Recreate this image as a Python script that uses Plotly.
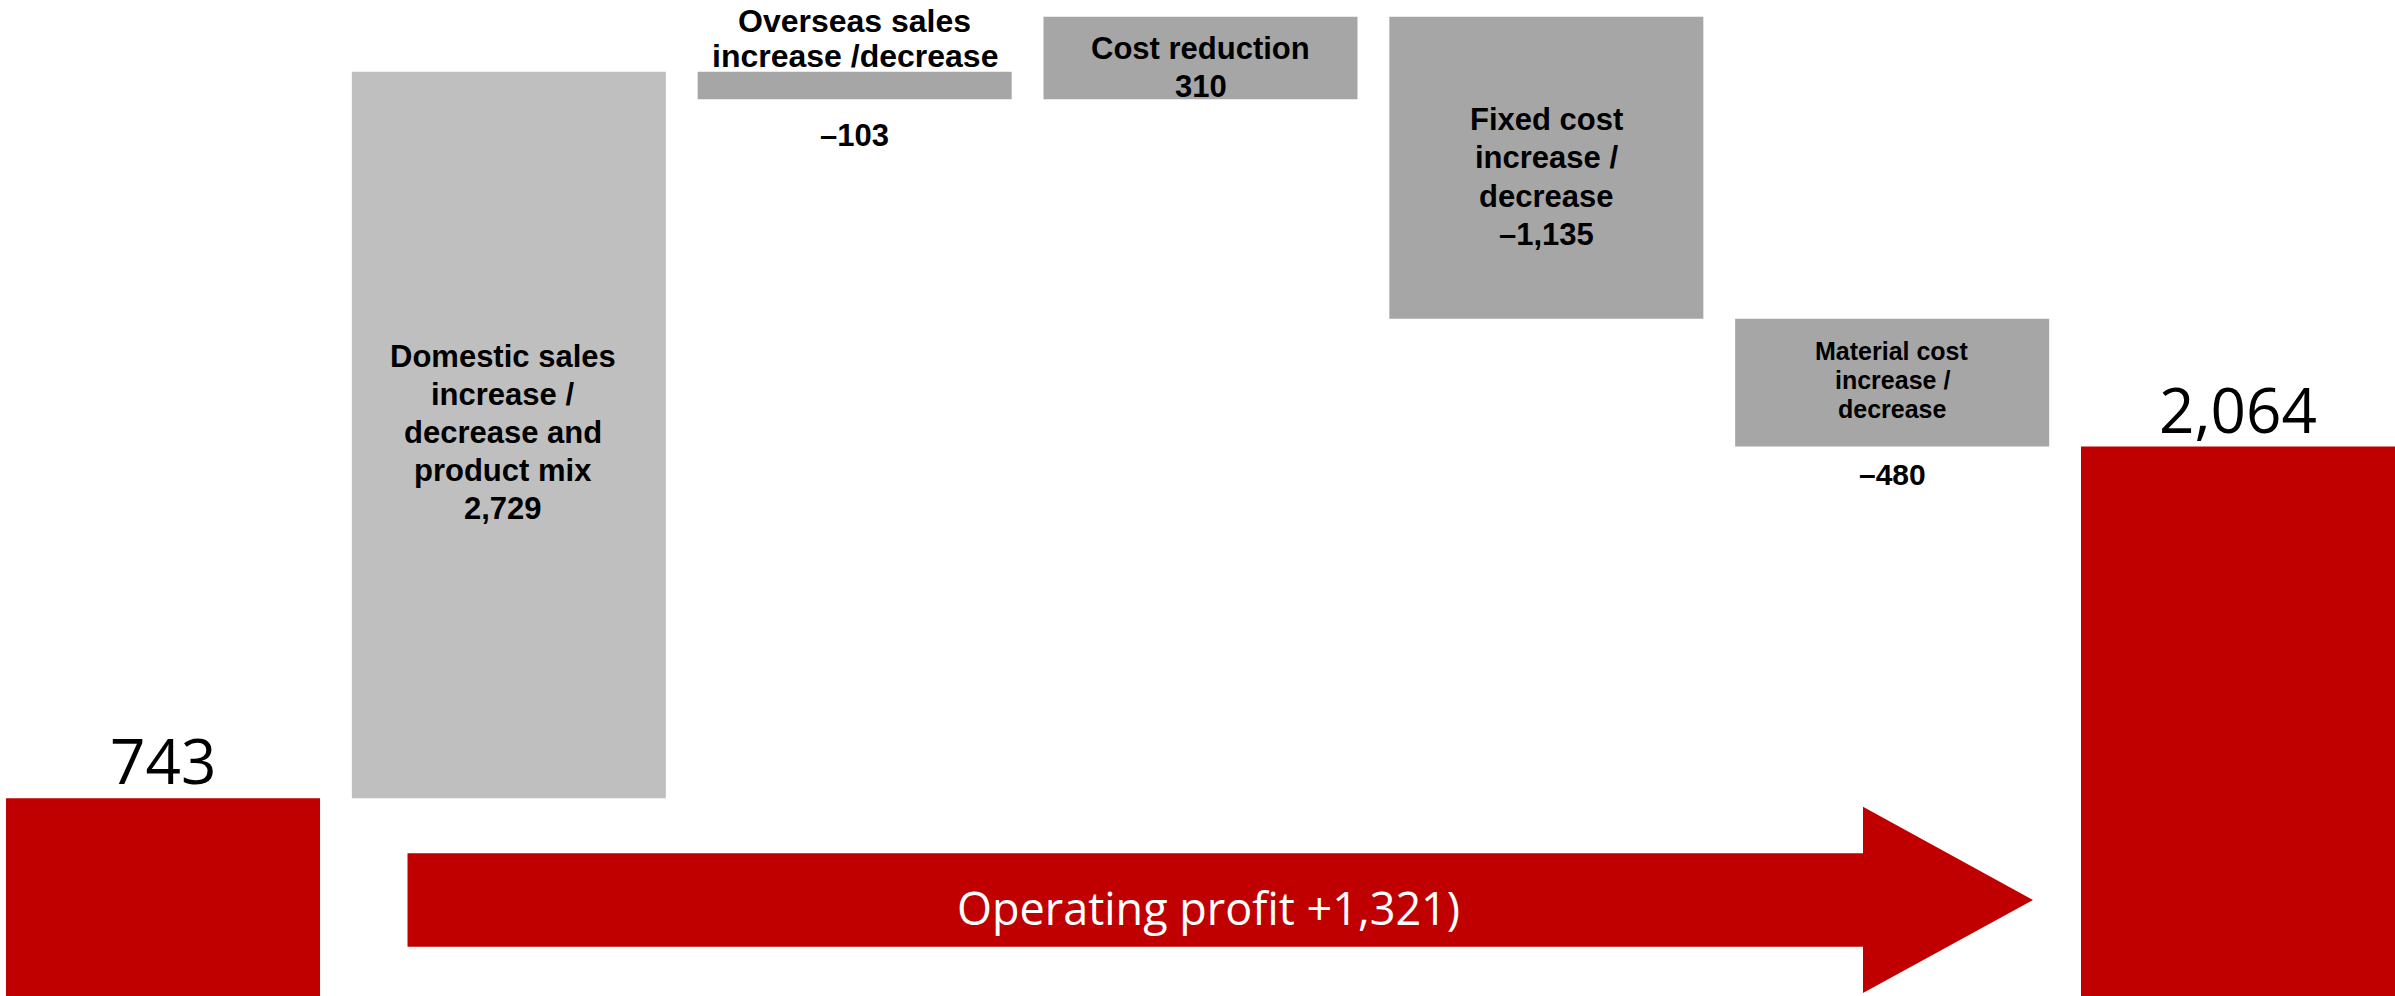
import plotly.graph_objects as go

# ---------------- data ----------------
categories = ["Previous FY", "Domestic sales", "Overseas sales", "Cost reduction",
              "Fixed cost", "Material cost", "Current FY"]
bar_labels = [[], ["Domestic sales", "increase /", "decrease and", "product mix"],
              ["Overseas sales", "increase /decrease"], ["Cost reduction"],
              ["Fixed cost", "increase /", "decrease"],
              ["Material cost", "increase /", "decrease"], []]
values = [743, 2729, -103, 310, -1135, -480, 2064]
measures = ["total", "relative", "relative", "relative", "relative", "relative", "total"]
value_text = ["743", "2,729", "–103", "310", "–1,135", "–480", "2,064"]
change_text = "Operating profit +1,321)"

# ---------------- derived bases ----------------
bases, heights = [], []
running = 0
for v, m in zip(values, measures):
    if m == "total":
        bases.append(0)
        heights.append(v)
        running = v
    else:
        bases.append(running if v >= 0 else running + v)
        heights.append(abs(v))
        running += v
tops = [b + h for b, h in zip(bases, heights)]
mids = [b + h / 2 for b, h in zip(bases, heights)]
xs = list(range(len(categories)))

RED = "#C00000"
LIGHT = "#BFBFBF"
GREY = "#A6A6A6"
colors = [RED, LIGHT, GREY, GREY, GREY, GREY, RED]

fig = go.Figure()
fig.add_trace(go.Bar(
    x=xs, y=heights, base=bases, width=0.908,
    marker=dict(color=colors, line=dict(width=0)),
    hovertext=categories, hoverinfo="text", showlegend=False,
))

BOLD = "Liberation Sans, Arial, sans-serif"
NUM = "Open Sans, Noto Sans, sans-serif"
ann = []

def add(x, y, text, size, family, yshift=0, xshift=0, color="#000000", bold=False,
        xref="x", yref="y"):
    t = f"<b>{text}</b>" if bold else text
    ann.append(dict(x=x, y=y, xref=xref, yref=yref, text=t, showarrow=False,
                    xanchor="center", yanchor="middle", yshift=yshift, xshift=xshift,
                    font=dict(family=family, size=size, color=color)))

def block(x, y, lines, size, first_shift, pitch, xshift=0):
    for i, line in enumerate(lines):
        add(x, y, line, size, BOLD, yshift=first_shift - i * pitch, xshift=xshift, bold=True)

# start / end totals
add(xs[0], tops[0], value_text[0], 62, NUM, yshift=38)
add(xs[6], tops[6], value_text[6], 62, NUM, yshift=38)
# domestic (label + value inside bar)
block(xs[1], mids[1], bar_labels[1] + [value_text[1]], 31, 78.5, 38, xshift=-6)
# overseas: label above, value below
block(xs[2], tops[2], bar_labels[2], 32, 50.3, 35)
add(xs[2], bases[2], value_text[2], 31, BOLD, yshift=-36, bold=True)
# cost reduction
block(xs[3], bases[3], bar_labels[3] + [value_text[3]], 31, 50.5, 38)
# fixed cost
block(xs[4], mids[4], bar_labels[4] + [value_text[4]], 31, 48.5, 38.4)
# material cost
block(xs[5], mids[5], bar_labels[5], 25, 31.6, 28.8)
add(xs[5], bases[5], value_text[5], 30, BOLD, yshift=-27.5, bold=True)
# arrow text
add(0.5044, 0.0884, change_text, 45, NUM, color="#FFFFFF", xref="paper", yref="paper")

# decorative arrow (paper coordinates)
W, H = 2395.0, 996.0
def px(x, y):
    return f"{x / W:.5f},{1 - y / H:.5f}"
arrow_path = ("M " + px(407.5, 853.3) + " L " + px(1863, 853.3) + " L " + px(1863, 806.7) +
              " L " + px(2033, 900) + " L " + px(1863, 993) + " L " + px(1863, 946.7) +
              " L " + px(407.5, 946.7) + " Z")

fig.update_layout(
    width=2395, height=996,
    margin=dict(l=0, r=0, t=0, b=0),
    paper_bgcolor="white", plot_bgcolor="white",
    xaxis=dict(range=[-0.4714, 6.454], visible=False, fixedrange=True),
    yaxis=dict(range=[0, 996 / 0.2662], visible=False, fixedrange=True),
    annotations=ann,
    shapes=[dict(type="path", xref="paper", yref="paper", path=arrow_path,
                 fillcolor=RED, line=dict(width=0), layer="above")],
    showlegend=False,
)

fig.write_html("out.html", config={"displayModeBar": False},
               post_script="document.body.style.margin='0';document.body.style.overflow='hidden';")
